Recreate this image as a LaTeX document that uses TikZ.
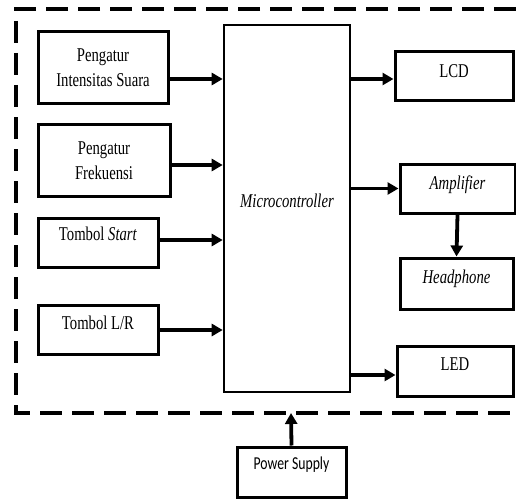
\documentclass[tikz,border=0pt]{standalone}
\usepackage{fontspec}
\setmainfont{Liberation Serif}
\newfontfamily\psfont{Carlito}
\usetikzlibrary{arrows.meta}
\newcommand{\tallt}[1]{\scalebox{0.98}[1.3]{#1}}
\newcommand{\liftt}[2]{\raisebox{#1}[\height][\depth]{\tallt{#2}}}
\begin{document}
\begin{tikzpicture}[x=1pt,y=-1pt,
  blk/.style={draw,line width=3pt,rectangle,inner sep=0pt,align=center,
    font=\fontsize{15}{25}\selectfont},
  arr/.style={line width=3.8pt,-{Triangle[length=11pt,width=12pt]}},
  frame/.style={line width=3.2pt,dash pattern=on 22pt off 10pt}]
\useasboundingbox (0,0) rectangle (516,500);

% dashed enclosure (open on the right)
\draw[frame] (516,9) -- (16,9) -- (16,413) -- (516,413);
\coordinate (pin) at (291,413);

% left inputs
\node[blk,minimum width=130pt,minimum height=72pt] (ins) at (103,68) {\tallt{Pengatur}\\\tallt{Intensitas Suara}};
\node[blk,minimum width=132pt,minimum height=72pt] (frq) at (104,160.5) {\tallt{Pengatur}\\\tallt{Frekuensi}};
\node[blk,minimum width=120pt,minimum height=49pt] (sta) at (98,243) {\liftt{9pt}{Tombol \textit{Start}}};
\node[blk,minimum width=120pt,minimum height=49pt] (lr) at (98,330) {\liftt{7pt}{Tombol L/R}};

% microcontroller
\node[blk,line width=2.6pt,minimum width=126pt,minimum height=367pt] (mc) at (287,208.5) {\liftt{8pt}{\textit{Microcontroller}}};

% right outputs
\node[blk,minimum width=118pt,minimum height=49pt] (lcd) at (454,76.5) {\liftt{5pt}{LCD}};
\node[blk,minimum width=115pt,minimum height=49pt] (amp) at (457.5,188.5) {\liftt{4pt}{\textit{Amplifier}}};
\node[blk,minimum width=113pt,minimum height=51pt] (hp) at (456.5,283.5) {\liftt{5pt}{\textit{Headphone}}};
\node[blk,minimum width=116pt,minimum height=50pt] (led) at (455,371) {\liftt{7pt}{LED}};

% power supply
\node[blk,minimum width=109pt,minimum height=50pt,font=\psfont\fontsize{14}{17}\selectfont] (ps) at (291.5,472) {\liftt{7pt}{Power Supply}};

% connectors
\draw[arr] ([yshift=-11pt]ins.east) -- ([yshift=-11pt]ins.east -| mc.west);
\draw[arr] ([yshift=-4.5pt]frq.east) -- ([yshift=-4.5pt]frq.east -| mc.west);
\draw[arr] ([yshift=3pt]sta.east) -- ([yshift=3pt]sta.east -| mc.west);
\draw[arr] (lr.east) -- (lr.east -| mc.west);
\draw[arr] ([yshift=-2.5pt]lcd.west -| mc.east) -- ([yshift=-2.5pt]lcd.west);
\draw[arr] (amp.west -| mc.east) -- (amp.west);
\draw[arr] ([yshift=-4pt]led.west -| mc.east) -- ([yshift=-4pt]led.west);
\draw[arr] (amp.south) -- (hp.north);
\draw[arr] (ps.north) -- (pin);
\end{tikzpicture}
\end{document}
